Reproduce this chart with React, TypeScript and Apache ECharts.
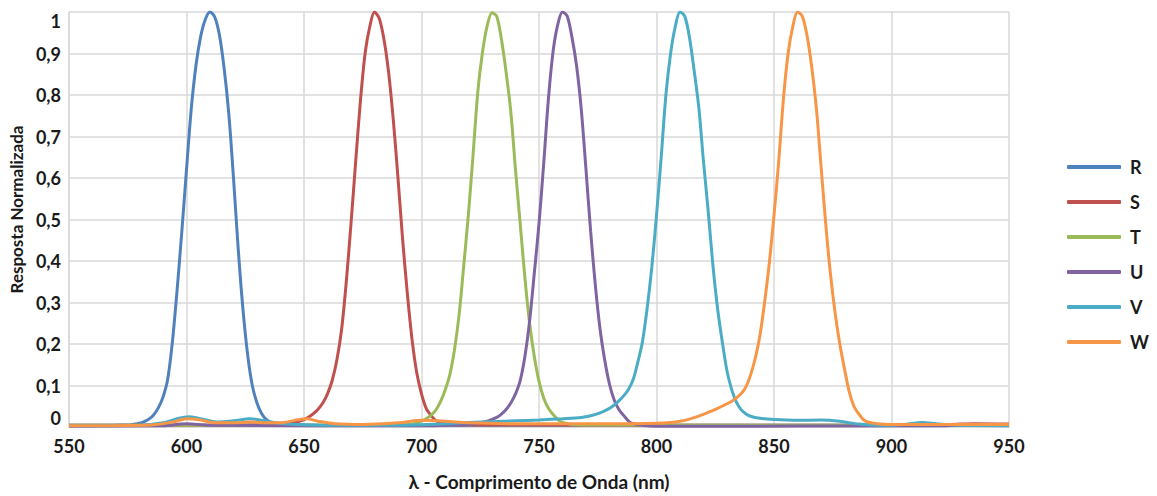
import React, { useEffect, useRef } from "react";
import * as echarts from "echarts";

const seriesNames = ["R", "S", "T", "U", "V", "W"];
const seriesColors = ["#4F81BD", "#C0504D", "#9BBB59", "#8064A2", "#4BACC6", "#F79646"];

const xTicks = { min: 550, max: 950, interval: 50 };
const yTicks = { min: 0, max: 1, interval: 0.1 };

const dataR: [number, number][] = [
  [550, 0.004], [565, 0.004], [572, 0.005], [576, 0.005], [578, 0.007], [580, 0.009], [582, 0.013],
  [584, 0.019], [586, 0.029], [588, 0.046], [590, 0.072], [592, 0.115], [594, 0.205], [596, 0.33],
  [598, 0.47], [600, 0.62], [602, 0.765], [604, 0.87], [606, 0.94], [608, 0.982], [610, 1.0],
  [612, 0.988], [614, 0.945], [616, 0.865], [618, 0.755], [620, 0.6], [622, 0.43], [624, 0.285],
  [626, 0.175], [628, 0.1], [630, 0.058], [632, 0.032], [634, 0.018], [636, 0.011], [638, 0.008],
  [642, 0.006], [660, 0.004], [800, 0.004], [950, 0.004],
];

const dataS: [number, number][] = [
  [550, 0.004], [620, 0.005], [636, 0.006], [640, 0.008], [644, 0.01], [648, 0.014], [650, 0.018],
  [652, 0.024], [654, 0.032], [656, 0.043], [658, 0.058], [660, 0.08], [662, 0.112], [664, 0.162],
  [666, 0.235], [668, 0.35], [670, 0.49], [672, 0.64], [674, 0.785], [676, 0.9], [678, 0.965],
  [680, 1.0], [682, 0.985], [684, 0.935], [686, 0.855], [688, 0.74], [690, 0.6], [692, 0.45],
  [694, 0.32], [696, 0.21], [698, 0.13], [700, 0.08], [702, 0.045], [704, 0.028], [706, 0.016],
  [708, 0.01], [710, 0.007], [716, 0.005], [900, 0.004], [925, 0.006], [935, 0.008], [950, 0.007],
];

const dataT: [number, number][] = [
  [550, 0.004], [680, 0.005], [694, 0.006], [698, 0.01], [700, 0.014], [702, 0.02], [704, 0.028],
  [706, 0.04], [708, 0.06], [710, 0.088], [712, 0.125], [714, 0.185], [716, 0.27], [718, 0.39],
  [720, 0.515], [722, 0.66], [724, 0.81], [726, 0.905], [728, 0.968], [730, 0.998], [732, 0.99],
  [734, 0.935], [736, 0.855], [738, 0.76], [740, 0.62], [742, 0.49], [744, 0.36], [746, 0.25],
  [748, 0.17], [750, 0.11], [752, 0.07], [754, 0.045], [756, 0.03], [758, 0.018], [760, 0.011],
  [764, 0.006], [770, 0.005], [950, 0.004],
];

const dataU: [number, number][] = [
  [550, 0.002], [590, 0.003], [600, 0.008], [610, 0.004], [700, 0.003], [716, 0.005], [720, 0.006],
  [724, 0.009], [728, 0.014], [732, 0.023], [734, 0.031], [736, 0.042], [738, 0.058], [740, 0.08],
  [742, 0.112], [744, 0.17], [746, 0.255], [748, 0.37], [750, 0.49], [752, 0.635], [754, 0.79],
  [756, 0.905], [758, 0.97], [760, 1.0], [762, 0.99], [764, 0.94], [766, 0.87], [768, 0.765],
  [770, 0.62], [772, 0.47], [774, 0.34], [776, 0.235], [778, 0.16], [780, 0.103], [782, 0.065],
  [784, 0.042], [786, 0.028], [788, 0.015], [790, 0.008], [794, 0.004], [800, 0.002], [920, 0.003],
  [935, 0.006], [950, 0.004],
];

const dataV: [number, number][] = [
  [550, 0.003], [580, 0.004], [590, 0.01], [596, 0.02], [601, 0.025], [606, 0.02], [613, 0.012],
  [620, 0.015], [627, 0.02], [634, 0.014], [642, 0.008], [660, 0.004], [690, 0.004], [710, 0.008],
  [725, 0.012], [740, 0.015], [750, 0.017], [760, 0.02], [768, 0.023], [772, 0.027], [776, 0.034],
  [780, 0.045], [782, 0.053], [784, 0.063], [786, 0.075], [788, 0.09], [790, 0.113], [792, 0.155],
  [794, 0.205], [796, 0.285], [798, 0.385], [800, 0.51], [802, 0.65], [804, 0.8], [806, 0.9],
  [808, 0.965], [810, 1.0], [812, 0.99], [814, 0.94], [816, 0.86], [818, 0.77], [820, 0.64],
  [822, 0.52], [824, 0.39], [826, 0.285], [828, 0.205], [830, 0.135], [832, 0.09], [834, 0.06],
  [836, 0.042], [838, 0.032], [840, 0.026], [844, 0.021], [850, 0.018], [860, 0.016], [870, 0.017],
  [878, 0.014], [886, 0.007], [895, 0.004], [905, 0.006], [913, 0.011], [920, 0.007], [930, 0.004],
  [950, 0.003],
];

const dataW: [number, number][] = [
  [550, 0.003], [585, 0.005], [595, 0.013], [600, 0.02], [606, 0.017], [612, 0.01], [620, 0.01],
  [627, 0.012], [634, 0.01], [640, 0.01], [646, 0.016], [651, 0.02], [656, 0.014], [663, 0.008],
  [675, 0.006], [690, 0.01], [700, 0.016], [710, 0.014], [720, 0.01], [740, 0.008], [790, 0.008],
  [800, 0.009], [806, 0.011], [810, 0.014], [814, 0.019], [818, 0.026], [822, 0.035], [826, 0.045],
  [830, 0.056], [832, 0.062], [834, 0.07], [836, 0.08], [838, 0.096], [840, 0.125], [842, 0.165],
  [844, 0.22], [846, 0.3], [848, 0.395], [850, 0.51], [852, 0.64], [854, 0.79], [856, 0.9],
  [858, 0.965], [860, 1.0], [862, 0.99], [864, 0.945], [866, 0.87], [868, 0.77], [870, 0.63],
  [872, 0.49], [874, 0.37], [876, 0.275], [878, 0.2], [880, 0.14], [882, 0.085], [884, 0.05],
  [886, 0.032], [888, 0.018], [890, 0.012], [894, 0.008], [900, 0.006], [950, 0.006],
];

const allData = [dataR, dataS, dataT, dataU, dataV, dataW];

const xTitle = "λ - Comprimento de Onda (nm)";
const yTitle = "Resposta Normalizada";

export default function App() {
  const ref = useRef<HTMLDivElement>(null);
  useEffect(() => {
    if (!ref.current) return;
    const chart = echarts.init(ref.current, undefined, { renderer: "svg" });
    const labelColor = "#1a1a1a";
    const gridColor = "#d9d9d9";
    chart.setOption({
      animation: false,
      backgroundColor: "#ffffff",
      textStyle: { fontFamily: "Lato" },
      grid: { left: 62, right: 148, top: 12, bottom: 69, containLabel: false },
      legend: {
        data: seriesNames,
        orient: "vertical",
        left: 1062,
        top: 153,
        icon: "roundRect",
        itemWidth: 54,
        itemHeight: 4,
        itemGap: 17,
        textStyle: { fontSize: 18, fontWeight: "bold", color: labelColor, fontFamily: "Lato", padding: [0, 0, 0, 4] },
      },
      xAxis: {
        type: "value",
        min: xTicks.min,
        max: xTicks.max,
        interval: xTicks.interval,
        name: xTitle,
        nameLocation: "middle",
        nameGap: 45,
        nameTextStyle: { fontSize: 19, fontWeight: "bold", color: labelColor, fontFamily: "Lato" },
        axisLine: { show: true, lineStyle: { color: gridColor, width: 1.5 } },
        axisTick: { show: false },
        axisLabel: { fontSize: 18, fontWeight: "bold", color: labelColor, margin: 10, fontFamily: "Lato" },
        splitLine: { show: true, lineStyle: { color: gridColor, width: 1.5 } },
      },
      yAxis: {
        type: "value",
        min: yTicks.min,
        max: yTicks.max,
        interval: yTicks.interval,
        name: yTitle,
        nameLocation: "middle",
        nameRotate: 90,
        nameGap: 38,
        nameTextStyle: { fontSize: 17, fontWeight: "bold", color: labelColor, fontFamily: "Lato", padding: [0, 0, 0, 20] },
        axisLine: { show: true, lineStyle: { color: gridColor, width: 1.5 } },
        axisTick: { show: false },
        axisLabel: {
          fontSize: 18,
          fontWeight: "bold",
          color: labelColor,
          margin: 8,
          fontFamily: "Lato",
          verticalAlignMinLabel: "bottom",
          verticalAlignMaxLabel: "top",
          formatter: (v: number) => {
            if (Math.abs(v) < 1e-9) return "0";
            if (Math.abs(v - 1) < 1e-9) return "1";
            return v.toFixed(1).replace(".", ",");
          },
        },
        splitLine: { show: true, lineStyle: { color: gridColor, width: 1.5 } },
      },
      series: seriesNames.map((name, i) => ({
        name,
        type: "line",
        data: allData[i],
        showSymbol: false,
        smooth: 0.3,
        lineStyle: { color: seriesColors[i], width: 3 },
        itemStyle: { color: seriesColors[i] },
      })),
    });
    return () => chart.dispose();
  }, []);
  return (
    <div
      ref={ref}
      style={{ position: "absolute", left: 0, top: 0, width: 1157, height: 496, background: "#fff" }}
    />
  );
}
